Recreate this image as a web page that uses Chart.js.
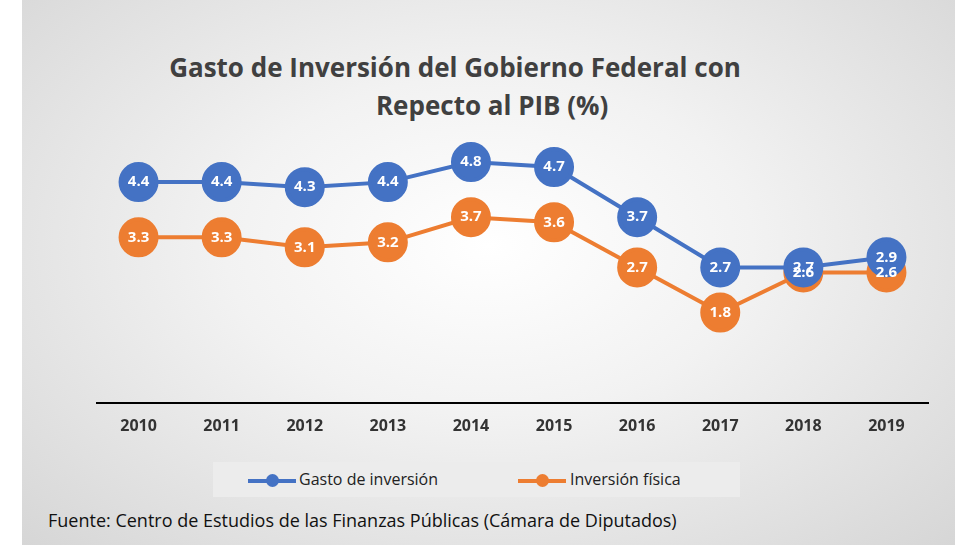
<!DOCTYPE html>
<html><head><meta charset="utf-8">
<script src="https://cdn.jsdelivr.net/npm/chart.js@4"></script>
<style>
body{margin:0;width:959px;height:558px;background:#fff;font-family:"Open Sans",sans-serif;position:relative;overflow:hidden}
#bg{position:absolute;left:22px;top:0;width:933px;height:545px;background:radial-gradient(ellipse at 50% 45%,#ffffff 0%,#f2f2f2 40%,#d6d6d6 100%)}
#title{position:absolute;left:60px;top:48px;width:790px;text-align:center;font-size:26px;font-weight:bold;color:#404040;line-height:38px}
#wrap{position:absolute;left:75px;top:120px;width:875px;height:330px}
#legend{position:absolute;left:213px;top:462px;width:527px;height:35px;background:#ececec;font-size:16px;color:#222}
.it{position:absolute;top:6px}
.ln{position:absolute;top:17px;height:4px;width:48px}
.dt{position:absolute;top:12px;width:13px;height:13px;border-radius:50%}
#src{position:absolute;left:48px;top:508px;font-size:18px;color:#111}
</style></head><body>
<div id="bg"></div>
<div id="title">Gasto de Inversión del Gobierno Federal con<br>&nbsp;&nbsp;&nbsp;&nbsp;&nbsp;&nbsp;&nbsp;&nbsp;&nbsp;&nbsp;&nbsp;Repecto al PIB (%)</div>
<div id="wrap"><canvas id="chart"></canvas></div>
<div id="legend">
  <div class="ln" style="left:35px;background:#4472c4"></div><div class="dt" style="left:53px;background:#4472c4"></div>
  <div class="it" style="left:86px">Gasto de inversión</div>
  <div class="ln" style="left:305px;background:#ed7d31"></div><div class="dt" style="left:323px;background:#ed7d31"></div>
  <div class="it" style="left:357px">Inversión física</div>
</div>
<div id="src">Fuente: Centro de Estudios de las Finanzas Públicas (Cámara de Diputados)</div>
<script>
const years = ['2010','2011','2012','2013','2014','2015','2016','2017','2018','2019'];
const gastoInversion = [4.4, 4.4, 4.3, 4.4, 4.8, 4.7, 3.7, 2.7, 2.7, 2.9];
const inversionFisica = [3.3, 3.3, 3.1, 3.2, 3.7, 3.6, 2.7, 1.8, 2.6, 2.6];

// etiquetas blancas dentro de cada punto
const pointLabels = {
    id: 'pointLabels',
    afterDatasetsDraw(chart) {
        const ctx = chart.ctx;
        ctx.save();
        ctx.font = 'bold 15px "Open Sans", sans-serif';
        ctx.fillStyle = '#fff';
        ctx.textAlign = 'center';
        ctx.textBaseline = 'middle';
        chart.data.datasets.forEach((ds, i) => {
            chart.getDatasetMeta(i).data.forEach((pt, j) => {
                ctx.fillText(ds.data[j].toFixed(1), pt.x, pt.y);
            });
        });
        ctx.restore();
    }
};

new Chart(document.getElementById('chart'), {
    type: 'line',
    data: {
        labels: years,
        datasets: [
            { label: 'Gasto de inversión', data: gastoInversion, borderColor: '#4472c4', backgroundColor: '#4472c4', borderWidth: 4, pointRadius: 18, pointHoverRadius: 18 },
            { label: 'Inversión física', data: inversionFisica, borderColor: '#ed7d31', backgroundColor: '#ed7d31', borderWidth: 4, pointRadius: 18, pointHoverRadius: 18 }
        ]
    },
    options: {
        responsive: true,
        maintainAspectRatio: false,
        animation: false,
        plugins: { legend: { display: false }, tooltip: { enabled: false } },
        scales: {
            x: {
                offset: true,
                grid: { display: false, drawTicks: false, offset: true },
                border: { color: '#000', width: 2 },
                ticks: { color: '#333', font: { size: 16, weight: 'bold', family: '"Open Sans", sans-serif' }, padding: 14 }
            },
            y: { display: false, min: 0, max: 5.2 }
        }
    },
    plugins: [pointLabels]
});
</script>
</body></html>
